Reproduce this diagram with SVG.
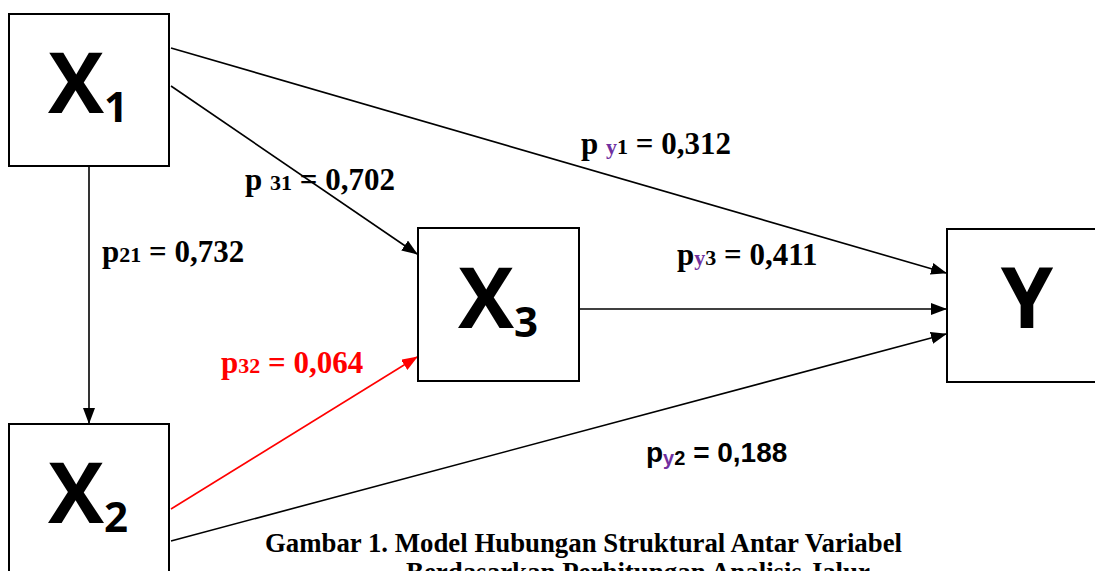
<svg xmlns="http://www.w3.org/2000/svg" width="1095" height="571" viewBox="0 0 1095 571">
<style>
.box{fill:#fff;stroke:#000;stroke-width:2}
.big{font-family:"Open Sans","Noto Sans",sans-serif;font-weight:700;fill:#000}
.lbl{font-family:"Liberation Serif","Times New Roman",serif;font-weight:700;font-size:31px;fill:#000}
.lbls{font-family:"Liberation Sans",Arial,sans-serif;font-weight:700;font-size:28px;fill:#000}
.pur{fill:#7030A0}
.cap{font-family:"Liberation Serif","Times New Roman",serif;font-weight:700;font-size:27px;fill:#000}
.ln{stroke:#000;stroke-width:1.6;fill:none}
.red{stroke:#f00;stroke-width:1.6;fill:none}
</style>
<defs>
<marker id="ah" markerUnits="userSpaceOnUse" markerWidth="16" markerHeight="12" refX="15" refY="6" orient="auto"><path d="M0,0 L16,6 L0,12 Z" fill="#000"/></marker>
<marker id="ahr" markerUnits="userSpaceOnUse" markerWidth="16" markerHeight="12" refX="15" refY="6" orient="auto"><path d="M0,0 L16,6 L0,12 Z" fill="#f00"/></marker>
</defs>
<g id="connectors">
<line class="ln" x1="171" y1="48" x2="946" y2="273" marker-end="url(#ah)"/>
<line class="ln" x1="171" y1="86" x2="417" y2="254" marker-end="url(#ah)"/>
<line class="ln" x1="89" y1="166" x2="89" y2="423" marker-end="url(#ah)"/>
<line class="ln" x1="579" y1="309" x2="946" y2="309" marker-end="url(#ah)"/>
<line class="red" x1="171" y1="509" x2="417" y2="357" marker-end="url(#ahr)"/>
<line class="ln" x1="171" y1="541" x2="946" y2="334" marker-end="url(#ah)"/>
</g>
<g id="X1">
<rect class="box" x="9" y="14" width="160" height="152"/>
<text class="big" x="48" y="113" font-size="84">X<tspan font-size="42" dy="9">1</tspan></text>
</g>
<g id="X2">
<rect class="box" x="9" y="424" width="160" height="160"/>
<text class="big" x="48" y="523" font-size="84">X<tspan font-size="42" dy="9">2</tspan></text>
</g>
<g id="X3">
<rect class="box" x="418" y="228" width="161" height="153"/>
<text class="big" x="458" y="328" font-size="84">X<tspan font-size="42" dy="9">3</tspan></text>
</g>
<g id="Y">
<rect class="box" x="947" y="229" width="160" height="153"/>
<text class="big" x="1027" y="328" font-size="84" text-anchor="middle">Y</text>
</g>
<g id="labels">
<text class="lbl" x="581" y="154">p <tspan class="pur" font-size="22">y</tspan><tspan font-size="22">1</tspan> = 0,312</text>
<text class="lbl" x="245" y="190">p <tspan font-size="22">31</tspan> = 0,702</text>
<text class="lbl" x="102" y="262">p<tspan font-size="22">21</tspan> = 0,732</text>
<text class="lbl" x="677" y="265">p<tspan class="pur" font-size="22">y</tspan><tspan font-size="22">3</tspan> = 0,411</text>
<text class="lbl" x="221" y="373" style="fill:#f00">p<tspan font-size="22">32</tspan> = 0,064</text>
<text class="lbls" x="646" y="462">p<tspan class="pur" font-size="20" dy="3">y</tspan><tspan font-size="20">2</tspan><tspan dy="-3"> = 0,188</tspan></text>
</g>
<g id="caption">
<text class="cap" x="265" y="552" textLength="637" lengthAdjust="spacingAndGlyphs">Gambar 1. Model Hubungan Struktural Antar Variabel</text>
<text class="cap" x="406" y="581" textLength="464" lengthAdjust="spacingAndGlyphs">Berdasarkan Perhitungan Analisis Jalur</text>
</g>
</svg>
